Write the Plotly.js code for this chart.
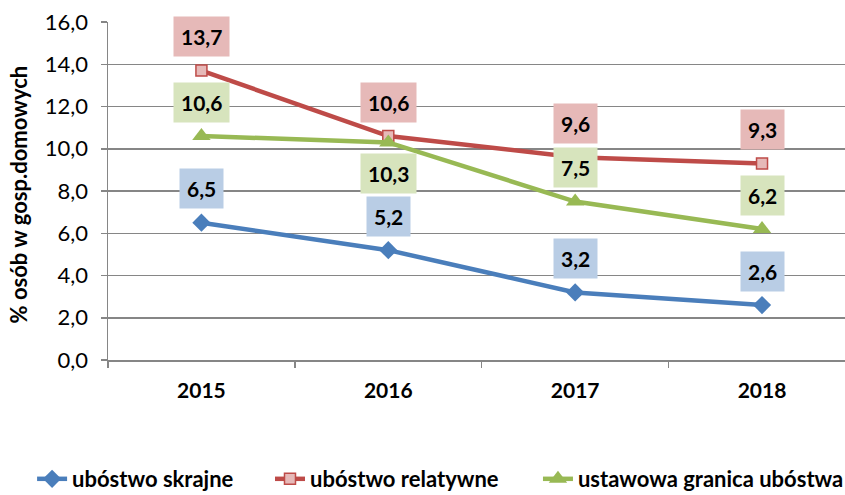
<!DOCTYPE html>
<html>
<head>
<meta charset="utf-8">
<script src="https://cdn.plot.ly/plotly-3.0.1.min.js"></script>
<style>html,body{margin:0;padding:0;background:#fff;}</style>
</head>
<body>
<div id="chart" style="width:845px;height:495px;"></div>
<script>
const years = ['2015', '2016', '2017', '2018'];
const skrajne = [6.5, 5.2, 3.2, 2.6];
const relatywne = [13.7, 10.6, 9.6, 9.3];
const ustawowa = [10.6, 10.3, 7.5, 6.2];
const seriesNames = ['ubóstwo skrajne', 'ubóstwo relatywne', 'ustawowa granica ubóstwa'];
const yTitle = '% osób w gosp.domowych';

const series = [
  {name: seriesNames[0], values: skrajne, color: '#4A7EBB', label: '#B9CDE5', legend: 'legend', legendX: -0.103,
   marker: {symbol: 'diamond', size: 14, color: '#4A7EBB'}, below: []},
  {name: seriesNames[1], values: relatywne, color: '#BE4B48', label: '#E6B9B8', legend: 'legend2', legendX: 0.2198,
   marker: {symbol: 'square', size: 11, color: '#E6B9B8', line: {color: '#BE4B48', width: 1.5}}, below: []},
  {name: seriesNames[2], values: ustawowa, color: '#98B954', label: '#D7E4BD', legend: 'legend3', legendX: 0.5834,
   marker: {symbol: 'triangle-up', size: 16, color: '#98B954'}, below: ['2016']}
];

const traces = series.map(s => ({
  type: 'scatter', mode: 'lines+markers', name: s.name, legend: s.legend,
  x: years, y: s.values,
  line: {color: s.color, width: 4.5},
  marker: s.marker
}));

const annotations = [];
series.forEach(s => {
  s.values.forEach((v, i) => {
    const below = s.below.indexOf(years[i]) >= 0;
    annotations.push({
      x: i, y: v, xref: 'x', yref: 'y', showarrow: false,
      text: '<b>' + v.toFixed(1).replace('.', ',') + '</b>',
      font: {family: 'Lato, sans-serif', size: 21, color: '#000'},
      bgcolor: s.label, borderpad: 7,
      yshift: below ? -31 : 34
    });
  });
});

annotations.push({
  xref: 'paper', yref: 'paper', x: -0.122, y: 0.49, xanchor: 'center', yanchor: 'middle',
  showarrow: false, textangle: -90, text: '<b>' + yTitle + '</b>',
  font: {family: 'Lato, sans-serif', size: 22, color: '#000'}
});

const layout = {
  width: 845, height: 495,
  margin: {l: 108, r: 0, t: 22, b: 135, autoexpand: false},
  paper_bgcolor: '#fff', plot_bgcolor: '#fff',
  separators: ', ',
  showlegend: true,
  xaxis: {
    type: 'category', range: [-0.5, 3.444],
    showline: true, linecolor: '#868686', linewidth: 1.5,
    showgrid: false, zeroline: false,
    ticks: 'outside', tickson: 'boundaries', ticklen: 6, tickcolor: '#868686', tickwidth: 1.5,
    ticklabelstandoff: 11,
    tickfont: {family: 'Lato, sans-serif', size: 21, color: '#000', weight: 'bold'}
  },
  yaxis: {
    range: [0, 16], dtick: 2, tickformat: '.1f',
    showline: true, linecolor: '#868686', linewidth: 1.5,
    showgrid: true, gridcolor: '#868686', gridwidth: 1.5,
    zeroline: false,
    ticks: 'outside', ticklen: 6, tickcolor: '#868686', tickwidth: 1.5,
    ticklabelstandoff: 8,
    tickfont: {family: 'Lato, sans-serif', size: 22, color: '#000'}
  },
  annotations: annotations
};

series.forEach(s => {
  layout[s.legend] = {
    orientation: 'h', x: s.legendX, xanchor: 'left', y: -0.29, yanchor: 'top',
    font: {family: 'Lato, sans-serif', size: 22, color: '#000', weight: 'bold'},
    itemwidth: 30, bgcolor: 'rgba(0,0,0,0)'
  };
});

Plotly.newPlot('chart', traces, layout, {staticPlot: true, displayModeBar: false});
</script>
</body>
</html>
